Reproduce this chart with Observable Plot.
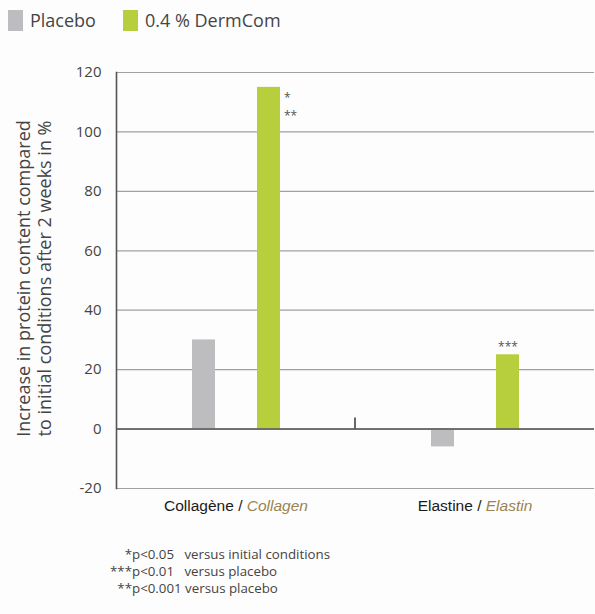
<!DOCTYPE html>
<html>
<head>
<meta charset="utf-8">
<script src="https://cdn.jsdelivr.net/npm/d3@7"></script>
<script src="https://cdn.jsdelivr.net/npm/@observablehq/plot@0.6"></script>
<style>
  html, body { margin: 0; padding: 0; background: #fdfdfd; }
  #wrap { position: relative; width: 595px; height: 614px; overflow: hidden; font-family: "Open Sans", sans-serif; }
  #legend { position: absolute; left: 0; top: 0; width: 595px; height: 40px; }
  .item { position: absolute; top: 8px; display: flex; align-items: center; font-size: 18px; color: #454545; }
  .sw { width: 15px; height: 21px; margin-right: 7px; }
  #chart { position: absolute; left: 0; top: 40px; }
  #notes { position: absolute; left: 0; top: 546px; font-size: 13.3px; color: #444; line-height: 17px; }
  .nl { display: flex; white-space: pre; }
  .ns { width: 132px; text-align: right; }
</style>
</head>
<body>
<div id="wrap">
  <div id="legend"></div>
  <div id="chart"></div>
  <div id="notes"></div>
</div>
<script>
// ---- data ----
const groupsFr = ["Collagène", "Elastine"];
const groupsEn = ["Collagen", "Elastin"];
const series = ["Placebo", "0.4 % DermCom"];
const placeboValues = [30, -6];
const dermcomValues = [115, 25];
const seriesColors = ["#bdbdbf", "#b7cf3c"];
const yTicks = [-20, 0, 20, 40, 60, 80, 100, 120];
const collagenStars = "*\n**";
const elastinStars = "***";
const dividerTop = 3.7;
const yTitle = "Increase in protein content compared\nto initial conditions after 2 weeks in %";
const footStars = ["*", "***", "**"];
const footP = ["p<0.05   ", "p<0.01   ", "p<0.001 "];
const footText = ["versus initial conditions", "versus placebo", "versus placebo"];

// ---- build table ----
const rows = [];
groupsEn.forEach((g, i) => {
  rows.push({group: g, series: series[0], value: placeboValues[i]});
  rows.push({group: g, series: series[1], value: dermcomValues[i]});
});
const labelRows = groupsEn.map((g, i) => ({group: g, label: groupsFr[i] + " / " + g}));

// ---- legend ----
const legend = document.getElementById("legend");
const legendLeft = [8, 123];
series.forEach((s, i) => {
  const it = document.createElement("div");
  it.className = "item";
  it.style.left = legendLeft[i] + "px";
  it.innerHTML = `<div class="sw" style="background:${seriesColors[i]}"></div><span>${s}</span>`;
  legend.appendChild(it);
});

// ---- chart ----
const chart = Plot.plot({
  width: 595,
  height: 490,
  marginTop: 32,
  marginBottom: 42,
  marginLeft: 116,
  marginRight: 1,
  style: {background: "transparent", fontFamily: "Open Sans, sans-serif", overflow: "visible"},
  fx: {domain: groupsEn, padding: 0, axis: null},
  x: {domain: series, paddingInner: 0.649, paddingOuter: 1.149, axis: null},
  y: {domain: [-20, 120], axis: null},
  color: {domain: series, range: seriesColors},
  marks: [
    Plot.gridY(yTicks, {stroke: "#a0a0a0", strokeOpacity: 1, strokeWidth: 1.2}),
    Plot.axisY(yTicks, {tickSize: 0, tickPadding: 15, fontSize: 15, fill: "#444", fontFamily: "Open Sans, sans-serif", label: null, tickFormat: d => String(d)}),
    Plot.barY(rows, {fx: "group", x: "series", y: "value", fill: "series"}),
    Plot.ruleY([0], {stroke: "#555", strokeWidth: 1.6}),
    Plot.frame({anchor: "left", facetAnchor: "left", stroke: "#555", strokeWidth: 1.6}),
    Plot.text([{group: groupsEn[0], series: series[1], value: dermcomValues[0], t: collagenStars}],
      {fx: "group", x: "series", y: "value", text: "t", textAnchor: "start", lineAnchor: "top", dx: 15, dy: 2, lineHeight: 1.5, fontSize: 12, fill: "#555"}),
    Plot.text([{group: groupsEn[1], series: series[1], value: dermcomValues[1], t: elastinStars}],
      {fx: "group", x: "series", y: "value", text: "t", textAnchor: "middle", lineAnchor: "bottom", dy: -4, fontSize: 12, fill: "#555"}),
    Plot.text(labelRows, {fx: "group", text: "label", frameAnchor: "bottom", dy: 22, fontSize: 15.5, fill: "#1a1a1a", fontFamily: "Liberation Sans, Arial, sans-serif", className: "grp-label"}),
    Plot.text([{group: groupsEn[0], t: yTitle}], {fx: "group", text: "t", frameAnchor: "left", textAnchor: "middle", rotate: -90, lineAnchor: "middle", lineHeight: 1.2, dx: -83, dy: -2, fontSize: 18, fill: "#444", fontFamily: "Open Sans, sans-serif"})
  ]
});

// mixed styling for group labels (French regular, English italic)
d3.select(chart).selectAll(".grp-label text").each(function() {
  const full = this.textContent;
  const parts = full.split(" / ");
  const t = d3.select(this);
  t.text(null);
  t.append("tspan").text(parts[0] + " / ");
  t.append("tspan").attr("font-style", "italic").attr("fill", "#9a8450").text(parts[1]);
});

// small divider tick between the two groups, positioned with the chart's own scales
const fxs = chart.scale("fx"), ys = chart.scale("y");
const xDiv = fxs.apply(groupsEn[1]);
d3.select(chart).append("line")
  .attr("x1", xDiv).attr("x2", xDiv)
  .attr("y1", ys.apply(0)).attr("y2", ys.apply(dividerTop))
  .attr("stroke", "#333").attr("stroke-width", 1.5);

document.getElementById("chart").appendChild(chart);

// ---- footnotes ----
const notes = document.getElementById("notes");
footStars.forEach((s, i) => {
  const l = document.createElement("div");
  l.className = "nl";
  l.innerHTML = `<span class="ns">${s}</span><span>${footP[i]}${footText[i]}</span>`;
  notes.appendChild(l);
});
</script>
</body>
</html>
